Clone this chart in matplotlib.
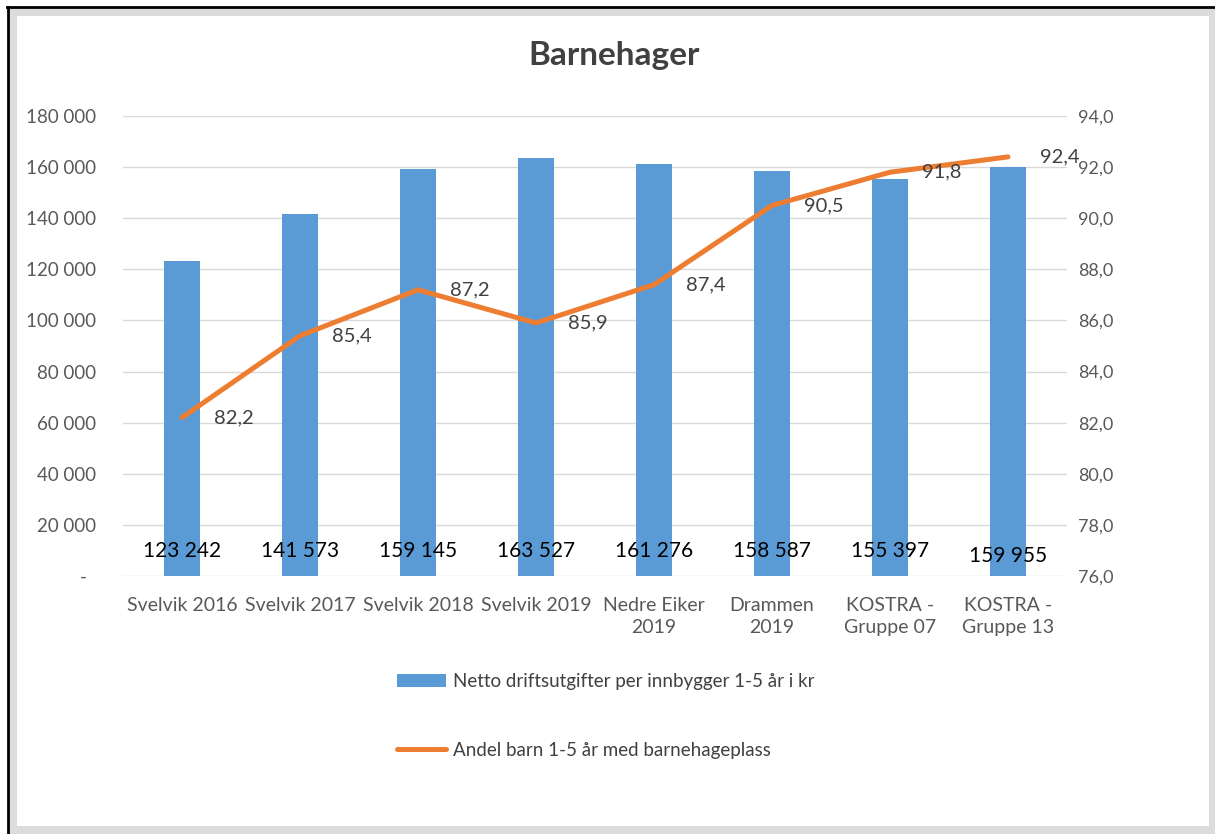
import matplotlib
matplotlib.use("Agg")
import matplotlib.pyplot as plt
from matplotlib.patches import Rectangle
from matplotlib.lines import Line2D

categories = ["Svelvik 2016", "Svelvik 2017", "Svelvik 2018", "Svelvik 2019",
              "Nedre Eiker\n2019", "Drammen\n2019", "KOSTRA -\nGruppe 07", "KOSTRA -\nGruppe 13"]
utgifter = [123242, 141573, 159145, 163527, 161276, 158587, 155397, 159955]
andel = [82.2, 85.4, 87.2, 85.9, 87.4, 90.5, 91.8, 92.4]
left_ticks = list(range(0, 180001, 20000))
right_ticks = [76, 78, 80, 82, 84, 86, 88, 90, 92, 94]

bar_name = "Netto driftsutgifter per innbygger 1-5 år i kr"
line_name = "Andel barn 1-5 år med barnehageplass"

# vertical offset (points) of the value labels inside the bars, last one sits a bit lower
bar_offsets = [18, 18, 18, 18, 18, 18, 18, 14.5]

blue = "#5B9BD5"
orange = "#ED7D31"
txt = "#595959"

plt.rcParams["font.family"] = ["Lato", "DejaVu Sans"]

W, H = 1215, 834
fig = plt.figure(figsize=(W / 100, H / 100), dpi=100)

# frame around the picture
fig.patches.append(Rectangle((8 / W, 0), 1 - 8 / W, 1 - 8 / H, transform=fig.transFigure,
                             facecolor="#DCDCDC", edgecolor="none", zorder=-3))
fig.patches.append(Rectangle((17 / W, 8 / H), (1209 - 17) / W, (826 - 16) / H, transform=fig.transFigure,
                             facecolor="white", edgecolor="none", zorder=-2))
fig.lines.append(Line2D([8 / W, 8 / W], [0, 1 - 7 / H], transform=fig.transFigure, color="black", lw=2, zorder=-1))
fig.lines.append(Line2D([7 / W, 1], [1 - 7 / H, 1 - 7 / H], transform=fig.transFigure, color="black", lw=2, zorder=-1))

ax = fig.add_axes([123 / W, 1 - 576 / H, 944 / W, 460 / H])
ax.patch.set_alpha(0)
x = list(range(len(categories)))
bars = ax.bar(x, utgifter, width=0.31, color=blue, zorder=2, label=bar_name)
ax.set_xlim(-0.5, len(categories) - 0.5)
ax.set_ylim(0, 180000)
ax.set_yticks(left_ticks)
ax.set_yticklabels(["-  "] + ["{:,}".format(v).replace(",", " ") for v in left_ticks[1:]])
ax.set_xticks(x)
ax.set_xticklabels(categories, linespacing=1.35)
ax.grid(axis="y", color="#D9D9D9", lw=1, zorder=0)
for s in ax.spines.values():
    s.set_visible(False)

for xi, v, off in zip(x, utgifter, bar_offsets):
    ax.annotate("{:,}".format(v).replace(",", " "), (xi, 0), xytext=(0, off), textcoords="offset points",
                ha="center", va="center", fontsize=15, color="black", zorder=5)

ax2 = ax.twinx()
ax2.plot(x, andel, color=orange, lw=3.6, solid_joinstyle="round", solid_capstyle="round",
         zorder=3, label=line_name)
ax2.set_ylim(76, 94)
ax2.set_yticks(right_ticks)
ax2.set_yticklabels(["{:.1f}".format(v).replace(".", ",") for v in right_ticks])
for s in ax2.spines.values():
    s.set_visible(False)

# tick styling after twinx, otherwise the pad gets reset
ax.tick_params(axis="y", length=0, labelsize=13.5, colors=txt, pad=19)
ax.tick_params(axis="x", length=0, labelsize=14, colors=txt, pad=15)
ax2.tick_params(length=0, labelsize=13, colors=txt, pad=8)

for xi, v in zip(x, andel):
    ax2.annotate("{:.1f}".format(v).replace(".", ","), (xi, v), xytext=(23, 0), textcoords="offset points",
                 ha="left", va="center", fontsize=14.5, color="#404040")

fig.text(614 / W, 1 - 55 / H, "Barnehager", ha="center", va="center",
         fontsize=24, fontweight="bold", color="#404040")

handles = [bars, ax2.get_lines()[0]]
fig.legend(handles, [bar_name, line_name], loc="upper left",
           bbox_to_anchor=(397 / W, 1 - 673 / H), frameon=False, fontsize=13.5,
           labelcolor="#404040", handlelength=2.6, handletextpad=0.4,
           labelspacing=2.75, borderpad=0, borderaxespad=0)

fig.savefig("out.png", dpi=100)
